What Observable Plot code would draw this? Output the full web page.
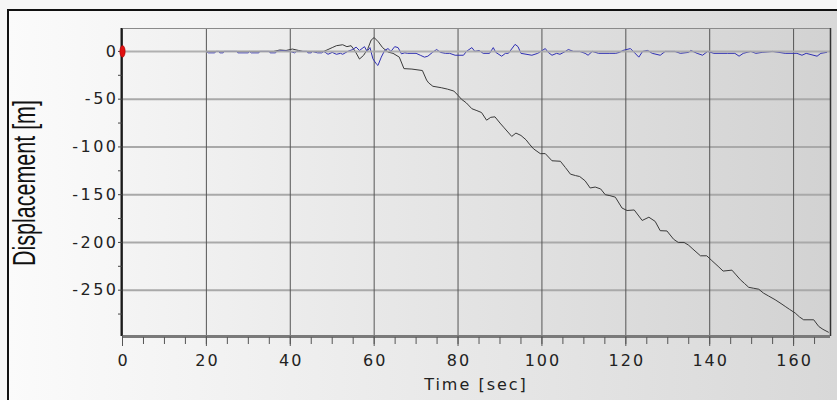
<!DOCTYPE html>
<html><head><meta charset="utf-8">
<script src="https://cdn.jsdelivr.net/npm/d3@7"></script>
<script src="https://cdn.jsdelivr.net/npm/@observablehq/plot@0.6"></script>
<style>
html,body{margin:0;padding:0;background:#fff;overflow:hidden;}
</style></head><body><div id="chart"></div>
<script>
// ---- data ----
const blackT = [20,36,37.5,39,40.5,42,43,48,49,50,51,52.5,53.5,54.5,55.5,56.5,57.5,58.5,59.3,60,61,62,63.3,64.5,66,67.1,69,71.5,72.5,73,74,76,77.5,79,80,80.8,82,83.3,84.5,85.6,86.8,87.8,88.8,90,91,92.8,93.8,95,96.2,97,98,99.6,100.8,102.4,104.4,105.6,106.8,108,109,110.3,111.5,112.7,114,115.1,116.2,117.5,119.1,120.3,122,123.9,125.5,127,128.2,129.8,131.4,132.5,133.9,135,136,137.8,139.3,140.5,142,143.2,145.3,146.3,147.3,148.3,149.3,150.5,151.7,152.8,154,155.6,157,158,159,160.4,161.4,162.4,164.8,166,167,168.3];
const blackV = [0,0,1.5,1,2.5,1,0,0,2,4,6,7,5,6,0,-8,-4,3,12,14.5,10,4,-0.7,-2,-6,-18,-18.5,-20,-30,-33,-36.5,-38,-39.5,-41.5,-46,-50,-54,-60,-62,-64,-72,-69,-68.5,-75,-80,-89,-85.5,-88,-92.5,-97,-102,-107,-107,-114.5,-115,-121.6,-128.5,-130,-131,-135.5,-143,-142,-144,-150,-151,-152.6,-164,-166.6,-166,-177,-173.6,-178,-187.7,-188,-196.7,-200,-200,-203,-207,-214,-214,-219,-225,-230,-229,-234,-239,-243,-247,-248,-249,-253,-256,-260,-264,-267,-270,-274,-278,-281,-281,-288,-291,-294];

const blueT = [20,20.5,22,22.3,23,23.2,24,24.2,27.3,27.5,30,30.3,30.7,32.5,32.7,35,35.2,36.5,36.7,38,40,41,41.5,44,44.2,45,45.2,46.5,47.5,48,49,50,51,52,52.5,53.7,54.9,55.7,56.5,57.7,58.3,59,59.7,60.5,60.9,61.7,62.5,63.3,64,64.9,65.7,66.5,67.3,68,70,71,72,72.8,73.9,74.9,75.8,77,78,79.3,81.3,82,83.3,84,85,86,87.5,88.4,89,90.4,91.3,92,93.6,94.3,95,97.6,99,100.8,101.5,102.4,103.5,104.3,105.6,106.3,107.5,109,110.3,111,112,113.5,116.2,117.6,118.5,119.3,121.1,122,123.1,124,125.2,126.3,128.2,129.4,130.6,131.7,133,135,135.5,137,138.3,139.5,141,144.2,146,147,148,149.8,151,152.5,155,158,160.8,162,163,165.6,166.5,167.9];
const blueV = [0,-1.5,-1.5,0,0,-1.5,-1.5,0,0,-1.5,-1.5,0,-1.5,-1.5,0,0,-1.5,-1.5,0,1,0,-1.5,0,0,-1.5,-1.5,0,-1.5,-1.5,0,-3,-1,-3,-2,-3,0,2,4.5,1,5,0,4,-7.7,-13,-14.7,-6,1,3,0,5,4,-2.5,-1.5,-2,-2,-4,-6,-5,-1,2,-1,-2,-2,-4,-4,0,4,0,1,-2,-2,4,-1,-5,-2,-2,7.4,5,-2,-4,-2,3,-1,-4,-2,-3,0,2,0,0,-2,-4,0,-2,-2,-2,-1,1,3,-1,-6,0,1,-2,-4,0,0,0,-2,-1,1,-2,-4,0,-2,-2,-2,-5,-2,0,-2,-1,0,-2,-2,-4,-2,-5,-2,-1];

const xTicks = [0,20,40,60,80,100,120,140,160];
const xMinor = d3.range(0,170,5);
const yTicks = [0,-50,-100,-150,-200,-250];
const yMinor = d3.range(0,-300,-25);
const xDomain = [0,168.8];
const yDomain = [-298.5,24];
const xTitle = "Time [sec]";
const yTitle = "Displacement [m]";

const black = blackT.map((t,i)=>({t, v: blackV[i]}));
const blue = blueT.map((t,i)=>({t, v: blueV[i]}));

const ellipse = {draw(ctx){const rx=2.7, ry=5.8, k=0.5523;
  ctx.moveTo(rx,0);
  ctx.bezierCurveTo(rx,ry*k,rx*k,ry,0,ry);
  ctx.bezierCurveTo(-rx*k,ry,-rx,ry*k,-rx,0);
  ctx.bezierCurveTo(-rx,-ry*k,-rx*k,-ry,0,-ry);
  ctx.bezierCurveTo(rx*k,-ry,rx,-ry*k,rx,0);
  ctx.closePath();}};

const chart = Plot.plot({
  width: 837, height: 400,
  marginLeft: 122, marginRight: 7, marginTop: 28, marginBottom: 64,
  x: {domain: xDomain, axis: null, label: null},
  y: {domain: yDomain, axis: null, label: null},
  style: {background: "none", fontFamily: "'DejaVu Sans', sans-serif", color: "#222"},
  marks: [
    Plot.gridY(yTicks.filter(d=>d!==0), {stroke: "#a9a9a9", strokeOpacity: 1, strokeWidth: 2}),
    Plot.gridX(xTicks, {stroke: "#555", strokeOpacity: 1, strokeWidth: 1}),
    Plot.line(black, {x: "t", y: "v", stroke: "#3a3a3a", strokeWidth: 1}),
    Plot.line(blue, {x: "t", y: "v", stroke: "#3030b4", strokeWidth: 1}),
    Plot.gridY([0], {stroke: "#a9a9a9", strokeOpacity: 0.9, strokeWidth: 2}),
    Plot.ruleY([yDomain[1]], {stroke: "#8a8a8a", strokeWidth: 1}),
    Plot.ruleX([xDomain[1]], {stroke: "#333", strokeWidth: 1.5}),
    Plot.ruleY([yDomain[0]], {stroke: "#7a7a7a", strokeWidth: 3}),
    Plot.ruleX([xDomain[0]], {stroke: "#1a1a1a", strokeWidth: 2, dx: -1}),
    Plot.axisY(yMinor, {tickSize: 4, tickFormat: () => "", stroke: "#444", label: null}),
    Plot.axisX(xMinor, {tickSize: 7, tickFormat: () => "", stroke: "#555", dy: 1, label: null}),
    Plot.axisX(xTicks, {tickSize: 10, tickFormat: () => "", stroke: "#555", label: null}),
    Plot.text(yTicks, {y: d => d, text: d => String(d), frameAnchor: "left", dx: -4, textAnchor: "end", fontSize: 16, fill: "#222"}),
    Plot.text(xTicks, {x: d => d, text: d => String(d), frameAnchor: "bottom", dy: 24, dx: 1, lineAnchor: "middle", fontSize: 16, fill: "#222"}),
    Plot.dot([{t: 0, v: 0}], {x: "t", y: "v", symbol: ellipse, r: 4, fill: "#e01010", stroke: "#a00000", strokeWidth: 0.5})
  ]
});

const svg = d3.select(chart);
// letter spacing on numeric tick labels
svg.selectAll("text").filter(function(){ return /^-?\d+$/.test(this.textContent); })
  .attr("letter-spacing", function(){ return this.textContent.length > 0 && this.getAttribute("text-anchor") === "end" ? "2.5px" : "2px"; });
svg.selectAll("g[text-anchor='end'] text").attr("letter-spacing", "2.5px");

const defs = svg.insert("defs", ":first-child");
const g1 = defs.append("linearGradient").attr("id", "outerGrad").attr("x1", 0).attr("x2", 1).attr("y1", 0).attr("y2", 0);
g1.append("stop").attr("offset", "0%").attr("stop-color", "#fbfbfb");
g1.append("stop").attr("offset", "100%").attr("stop-color", "#d8d8d8");
const g2 = defs.append("linearGradient").attr("id", "plotGrad").attr("x1", 0).attr("x2", 1).attr("y1", 0).attr("y2", 0);
g2.append("stop").attr("offset", "0%").attr("stop-color", "#f4f4f4");
g2.append("stop").attr("offset", "100%").attr("stop-color", "#d2d2d2");

const bg = svg.insert("g", "defs + *");
bg.append("rect").attr("x", 0).attr("y", 0).attr("width", 837).attr("height", 400).attr("fill", "#f6f6f6");
bg.append("rect").attr("x", 8).attr("y", 10).attr("width", 829).attr("height", 390).attr("fill", "url(#outerGrad)");
bg.append("rect").attr("x", 122).attr("y", 28).attr("width", 708).attr("height", 308).attr("fill", "url(#plotGrad)");
bg.append("path").attr("d", "M8,400V10H837").attr("fill", "none").attr("stroke", "#111").attr("stroke-width", 2);

svg.append("text").attr("x", 476).attr("y", 390)
  .attr("text-anchor", "middle").attr("font-family", "'DejaVu Sans', sans-serif")
  .attr("font-size", 16).attr("letter-spacing", "2px").attr("fill", "#222").text(xTitle);
svg.append("text").attr("transform", "translate(35,183) rotate(-90) scale(1,1.5)")
  .attr("text-anchor", "middle").attr("font-family", "'Liberation Sans', Arial, sans-serif")
  .attr("font-size", 21.5).attr("fill", "#111").text(yTitle);

document.getElementById("chart").appendChild(chart);
</script>
</body></html>
